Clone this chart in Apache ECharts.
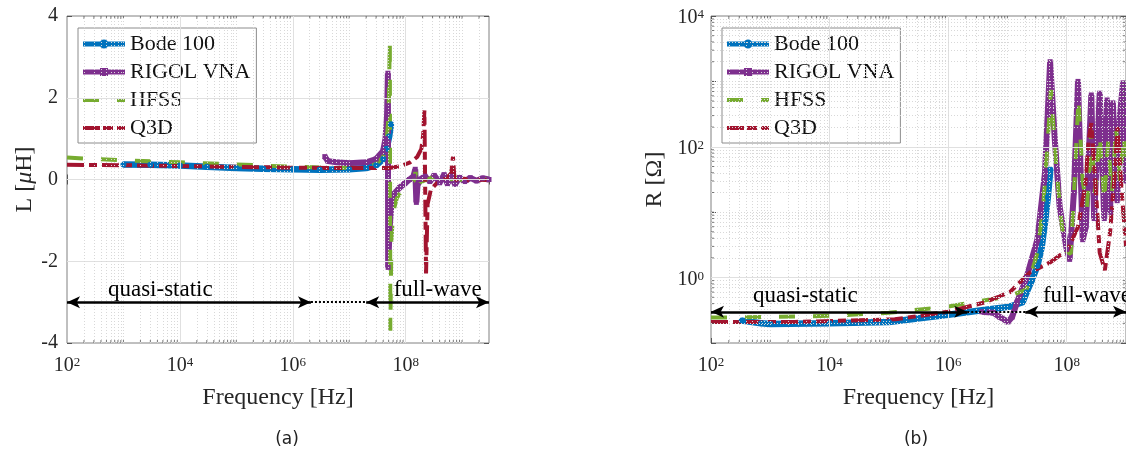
<!DOCTYPE html>
<html>
<head>
<meta charset="utf-8">
<script src="https://cdn.jsdelivr.net/npm/echarts@6/dist/echarts.min.js"></script>
<style>
html, body { margin: 0; padding: 0; background: #fff; }
#main { width: 1126px; height: 456px; }
</style>
</head>
<body>
<div id="main"></div>
<script>
// ---- (a) inductance L [uH] ----
var bodeFreqL = [1e3, 3e3, 1e4, 3e4, 1e5, 3e5, 1e6, 3e6, 1e7, 2e7, 3e7, 4e7, 4.6e7, 5.1e7, 5.5e7];
var bodeL = [0.37, 0.36, 0.34, 0.31, 0.28, 0.26, 0.25, 0.24, 0.25, 0.28, 0.35, 0.5, 0.75, 1.05, 1.35];

var rigolFreqL = [3.7e6, 4.2e6, 6e6, 1e7, 2e7, 3e7, 4e7, 4.4e7, 4.7e7, 4.85e7, 4.9e7, 5.2e7, 5.6e7, 6.3e7, 7.8e7, 9.6e7, 1.17e8, 1.38e8, 1.48e8, 1.55e8, 1.62e8, 1.8e8, 2.2e8, 2.7e8, 3.2e8, 4e8, 4.8e8, 5.5e8, 6.5e8, 7.5e8, 9e8, 1.1e9, 1.4e9, 1.8e9, 2.3e9, 3e9];
var rigolL = [0.56, 0.45, 0.42, 0.4, 0.42, 0.5, 0.7, 1.0, 1.6, 2.6, -2.15, -1.2, -0.6, -0.35, -0.2, -0.1, 0.0, 0.08, 0.25, -0.56, -0.15, 0.0, 0.08, -0.05, 0.1, -0.08, 0.12, -0.1, 0.08, -0.12, 0.05, -0.05, 0.04, -0.03, 0.03, 0.0];

var hfssFreqL = [1e2, 3e2, 1e3, 1e4, 1e5, 1e6, 1e7, 2e7, 3e7, 4e7, 4.6e7, 5e7, 5.25e7, 5.35e7, 5.6e7, 6e7, 7e7, 8.5e7, 1e8, 1.2e8, 1.4e8, 1.5e8, 1.56e8, 1.8e8, 2.2e8, 3e8, 4e8, 5e8, 6.5e8, 8e8, 1e9, 1.4e9, 2e9, 3e9];
var hfssL = [0.54, 0.5, 0.47, 0.42, 0.37, 0.31, 0.28, 0.3, 0.38, 0.55, 0.9, 1.6, 3.4, -3.7, -1.5, -0.8, -0.45, -0.28, -0.18, -0.1, -0.03, 0.22, -0.2, -0.08, -0.02, 0.05, -0.03, 0.06, 0.0, 0.05, -0.02, 0.03, 0.0, 0.0];

var q3dFreqL = [1e2, 1e3, 1e4, 1e5, 1e6, 1e7, 5e7, 8e7, 1.2e8, 1.6e8, 1.9e8, 2.05e8, 2.15e8, 2.3e8, 2.45e8, 2.8e8, 3.5e8, 4.5e8, 5.5e8, 6.4e8, 6.9e8, 7.3e8, 8.5e8, 1.1e9, 1.5e9, 2e9, 3e9];
var q3dL = [0.36, 0.35, 0.33, 0.31, 0.29, 0.28, 0.28, 0.32, 0.42, 0.55, 0.75, 1.1, 1.69, -2.3, -0.6, -0.25, -0.1, 0.0, 0.05, 0.15, 0.56, 0.05, -0.05, 0.02, -0.05, 0.0, -0.02];

// ---- (b) resistance R [Ohm] ----
var bodeFreqR = [3.3e2, 7e2, 1e3, 1e4, 1e5, 1e6, 4e6, 1.1e7, 1.8e7, 2.1e7, 2.6e7, 3.2e7, 3.8e7, 4.3e7, 4.8e7, 5.3e7];
var bodeR = [0.22, 0.2, 0.195, 0.2, 0.21, 0.27, 0.32, 0.36, 0.42, 0.59, 0.93, 1.5, 3, 7, 17, 45];

var rigolFreqR = [3.7e6, 5.8e6, 7.4e6, 1.02e7, 1.2e7, 1.45e7, 2.1e7, 3.2e7, 4.3e7, 5.25e7, 6.3e7, 7.6e7, 1e8, 1.12e8, 1.32e8, 1.55e8, 1.86e8, 2.1e8, 2.6e8, 2.9e8, 3.6e8, 4.3e8, 4.8e8, 5.4e8, 6e8, 7.1e8, 7.9e8, 8.9e8, 1e9];
var rigolR = [0.30, 0.29, 0.25, 0.21, 0.25, 0.42, 1.0, 3.8, 40, 2000, 128, 12, 2.7, 1.9, 20, 1000, 3.8, 6, 620, 8, 660, 8, 520, 10, 470, 15, 300, 950, 30];

var hfssFreqR = [1e2, 1e3, 1e4, 1e5, 1e6, 4.2e6, 1.1e7, 2.1e7, 3.2e7, 4e7, 4.8e7, 5.4e7, 6.8e7, 8.3e7, 1e8, 1.17e8, 1.38e8, 1.58e8, 1.86e8, 2.2e8, 2.6e8, 3e8, 3.6e8, 4.3e8, 5e8, 5.8e8, 6.8e8, 7.9e8, 9.1e8, 1e9];
var hfssR = [0.245, 0.25, 0.26, 0.29, 0.36, 0.45, 0.52, 0.66, 2.4, 12, 125, 740, 40, 6, 2.5, 2.3, 40, 550, 30, 12, 180, 20, 150, 15, 120, 20, 200, 30, 150, 60];

var q3dFreqR = [1e2, 2.6e3, 1.26e5, 1e6, 4.2e6, 1.1e7, 2.4e7, 5.2e7, 1.05e8, 1.55e8, 2.05e8, 2.35e8, 2.6e8, 3.1e8, 3.6e8, 4.4e8, 5.4e8, 6.3e8, 7.2e8, 8.5e8, 1e9];
var q3dR = [0.21, 0.21, 0.23, 0.3, 0.42, 0.6, 1.2, 1.7, 2.7, 6, 25, 128, 230, 22, 2.4, 1.3, 5, 30, 200, 20, 3];

var SERIF = "'Liberation Serif', 'Times New Roman', serif";
var C_BLUE = '#0072BD', C_PURPLE = '#7E2F8E', C_GREEN = '#77AC30', C_RED = '#A2142F';

// legend samples drawn as filled paths (line + marker, dashes)
var ICON_BODE = 'path://M0,2.5 H42 V7.5 H0 Z M25.5,5 A4.5,4.5 0 1,1 16.5,5 A4.5,4.5 0 1,1 25.5,5 Z';
var ICON_RIGOL = 'path://M0,2.5 H42 V7.5 H0 Z M17,1 H25 V9 H17 Z';
var ICON_HFSS = 'path://M0,0 H16 V4 H0 Z M34,0 H42 V4 H34 Z';
var ICON_Q3D = 'path://M0,0 H17 V4 H0 Z M20,0 H30 V4 H20 Z M34,0 H42 V4 H34 Z';

function pairs(f, v) {
	return f.map(function(x, i) { return [x, v[i]]; });
}

function isEvenDecade(v) {
	var e = Math.round(Math.log10(v));
	return Math.abs(Math.log10(v) - e) < 1e-6 && e % 2 === 0;
}

function supFmt(v) {
	if (!isEvenDecade(v)) return '';
	return '{b|10}{s|' + Math.round(Math.log10(v)) + '}';
}

var supRich = {
	b: { fontFamily: SERIF, fontSize: 20, color: '#262626', lineHeight: 20, padding: [4, 0, 0, 0], verticalAlign: 'bottom' },
	s: { fontFamily: SERIF, fontSize: 13, color: '#262626', lineHeight: 13, verticalAlign: 'top' }
};

// grid line / tick positions on a log axis
function logLines(lo, hi, major) {
	var out = [];
	for (var e = Math.floor(Math.log10(lo)); e <= Math.ceil(Math.log10(hi)); e++) {
		for (var m = 1; m <= 9; m++) {
			var v = m * Math.pow(10, e);
			if (v <= lo * 1.0001 || v >= hi * 0.9999) continue;
			var isMajor = (m === 1 && e % 2 === 0);
			if (isMajor === major) out.push(v);
		}
	}
	return out;
}

function lineSeries(name, idx, data, opt) {
	return Object.assign({
		name: name,
		type: 'line',
		xAxisIndex: idx,
		yAxisIndex: idx,
		data: data,
		z: 3,
		animation: false
	}, opt);
}

function styleBode(data, idx) {
	return lineSeries('Bode 100', idx, data, {
		symbol: 'circle', symbolSize: 6, showSymbol: true,
		itemStyle: { color: C_BLUE },
		lineStyle: { color: C_BLUE, width: 6.5 }
	});
}
function styleRigol(data, idx) {
	return lineSeries('RIGOL VNA', idx, data, {
		symbol: 'rect', symbolSize: 5, showSymbol: true,
		itemStyle: { color: C_PURPLE },
		lineStyle: { color: C_PURPLE, width: 6 }
	});
}
function styleHfss(data, idx) {
	return lineSeries('HFSS', idx, data, {
		symbol: 'none',
		itemStyle: { color: C_GREEN },
		lineStyle: { color: C_GREEN, width: 4, type: [16, 18] }
	});
}
function styleQ3d(data, idx) {
	return lineSeries('Q3D', idx, data, {
		symbol: 'none',
		itemStyle: { color: C_RED },
		lineStyle: { color: C_RED, width: 4, type: [17, 5, 8, 5] }
	});
}

function gridSeries(idx, xMin, xMax, yLines, yMinor) {
	var major = logLines(xMin, xMax, true).map(function(v) { return { xAxis: v }; })
		.concat(yLines.map(function(v) { return { yAxis: v }; }));
	var minor = logLines(xMin, xMax, false).map(function(v) { return { xAxis: v }; })
		.concat(yMinor.map(function(v) { return { yAxis: v }; }));
	return [{
		type: 'line', xAxisIndex: idx, yAxisIndex: idx, data: [], z: 1, silent: true,
		markLine: {
			silent: true, symbol: 'none', label: { show: false }, animation: false,
			lineStyle: { color: '#e0e0e0', width: 1, type: 'solid' },
			data: major
		}
	}, {
		type: 'line', xAxisIndex: idx, yAxisIndex: idx, data: [], z: 1, silent: true,
		markLine: {
			silent: true, symbol: 'none', label: { show: false }, animation: false,
			lineStyle: { color: '#d8d8d8', width: 1, type: [1, 2] },
			data: minor
		}
	}];
}

// small inward minor ticks on a box edge
function minorTicks(idx, pts, size, offset) {
	return {
		type: 'scatter', xAxisIndex: idx, yAxisIndex: idx, data: pts, z: 4, silent: true,
		clip: false, animation: false,
		symbol: 'rect', symbolSize: size, symbolOffset: offset,
		itemStyle: { color: '#555' }
	};
}

function regionSeries(idx, yArrow, xQs, xFw, yText, xEnd) {
	return {
		type: 'line', xAxisIndex: idx, yAxisIndex: idx, data: [], z: 6, silent: true,
		markLine: {
			silent: true, animation: false, label: { show: false },
			symbol: ['arrow', 'arrow'], symbolSize: [9, 13],
			lineStyle: { color: '#000', width: 2.5, type: 'solid' },
			data: [
				[{ coord: [100, yArrow] }, { coord: [2.1e6, yArrow] }],
				[{ coord: [2.1e6, yArrow], symbol: 'none', lineStyle: { type: [2, 2], width: 2 } }, { coord: [2e7, yArrow], symbol: 'none' }],
				[{ coord: [2e7, yArrow] }, { coord: [xEnd, yArrow] }]
			]
		},
		markPoint: {
			silent: true, animation: false, symbol: 'circle', symbolSize: 1,
			itemStyle: { color: 'rgba(0,0,0,0)' },
			label: { show: true, position: 'inside', formatter: '{b}', color: '#000', fontFamily: SERIF, fontSize: 23 },
			data: [
				{ name: 'quasi-static', coord: [xQs, yText] },
				{ name: 'full-wave', coord: [xFw, yText] }
			]
		}
	};
}

function legendAt(left) {
	return {
		left: left, top: 28, orient: 'vertical',
		padding: [5, 6, 4, 5], itemGap: 6, itemWidth: 42, itemHeight: 10,
		symbolKeepAspect: true,
		backgroundColor: '#fff', borderColor: '#8c8c8c', borderWidth: 1,
		selectedMode: false,
		textStyle: { fontFamily: SERIF, fontSize: 22, color: '#111', lineHeight: 22 },
		data: [
			{ name: 'Bode 100', icon: ICON_BODE, itemStyle: { color: C_BLUE, borderWidth: 0 } },
			{ name: 'RIGOL VNA', icon: ICON_RIGOL, itemStyle: { color: C_PURPLE, borderWidth: 0 } },
			{ name: 'HFSS', icon: ICON_HFSS, itemStyle: { color: C_GREEN, borderWidth: 0 } },
			{ name: 'Q3D', icon: ICON_Q3D, itemStyle: { color: C_RED, borderWidth: 0 } }
		]
	};
}

var tick = { show: true, inside: true, length: 5, lineStyle: { color: '#555', width: 1 } };
var nameStyle = { fontFamily: SERIF, fontSize: 24, color: '#262626' };

var xMinorA = logLines(100, 3e9, false);
var xMinorB = logLines(100, 1e9, false);
var yMinorB = logLines(0.1, 1e4, false);

function axisCopy(base, extra) {
	return Object.assign({}, base, {
		axisLabel: { show: false }, name: '', splitLine: { show: false }, axisLine: { show: false }
	}, extra);
}

var xA = {
	type: 'log', gridIndex: 0, logBase: 10, min: 100, max: 3e9, interval: 2,
	axisLine: { show: false }, axisTick: tick, splitLine: { show: false },
	axisLabel: { margin: 13, formatter: supFmt, rich: supRich, showMaxLabel: false },
	name: 'Frequency [Hz]', nameLocation: 'middle', nameGap: 43, nameTextStyle: nameStyle
};
var xB = {
	type: 'log', gridIndex: 1, logBase: 10, min: 100, max: 1e9, interval: 2,
	axisLine: { show: false }, axisTick: tick, splitLine: { show: false },
	axisLabel: { margin: 13, formatter: supFmt, rich: supRich, showMaxLabel: false },
	name: 'Frequency [Hz]', nameLocation: 'middle', nameGap: 43, nameTextStyle: nameStyle
};
var yA = {
	type: 'value', gridIndex: 0, min: -4, max: 4, interval: 2,
	axisLine: { show: false }, axisTick: tick, splitLine: { show: false },
	axisLabel: { margin: 9, fontFamily: SERIF, fontSize: 20, color: '#262626' },
	name: 'L [{i|μ}H]', nameLocation: 'middle', nameGap: 30,
	nameTextStyle: Object.assign({ rich: { i: { fontFamily: SERIF, fontSize: 24, fontStyle: 'italic', color: '#262626' } } }, nameStyle)
};
var yB = {
	type: 'log', gridIndex: 1, logBase: 10, min: 0.1, max: 1e4, interval: 1,
	axisLine: { show: false }, axisTick: tick, splitLine: { show: false },
	axisLabel: { margin: 7, formatter: supFmt, rich: supRich, padding: [4, 0, 0, 0] },
	name: 'R [Ω]', nameLocation: 'middle', nameGap: 44, nameTextStyle: nameStyle
};

var chart = echarts.init(document.getElementById('main'));
var option = {
	animation: false,
	backgroundColor: '#fff',
	grid: [
		{ left: 67, top: 16, width: 422, height: 327, show: true, borderColor: '#808080', borderWidth: 1, backgroundColor: 'transparent' },
		{ left: 711, top: 16, width: 415, height: 327, show: true, borderColor: '#808080', borderWidth: 1, backgroundColor: 'transparent' }
	],
	legend: [legendAt(78), legendAt(722)],
	xAxis: [xA, xB, axisCopy(xA, { position: 'top' }), axisCopy(xB, { position: 'top' })],
	yAxis: [yA, yB, axisCopy(yA, { position: 'right' }), axisCopy(yB, { position: 'right' })],
	graphic: [
		{ type: 'text', x: 287, y: 440, style: { text: '(a)', textAlign: 'center', textVerticalAlign: 'middle', fontFamily: 'DejaVu Sans', fontSize: 17, fill: '#222' } },
		{ type: 'text', x: 916, y: 440, style: { text: '(b)', textAlign: 'center', textVerticalAlign: 'middle', fontFamily: 'DejaVu Sans', fontSize: 17, fill: '#222' } }
	],
	series: [].concat(
		gridSeries(0, 100, 3e9, [-2, 0, 2], []),
		gridSeries(1, 100, 1e9, [1, 100], yMinorB),
		[
			minorTicks(0, xMinorA.map(function(v) { return [v, -4]; }), [1, 3], [0, -1.5]),
			minorTicks(0, xMinorA.map(function(v) { return [v, 4]; }), [1, 3], [0, 1.5]),
			minorTicks(1, xMinorB.map(function(v) { return [v, 0.1]; }), [1, 3], [0, -1.5]),
			minorTicks(1, xMinorB.map(function(v) { return [v, 1e4]; }), [1, 3], [0, 1.5]),
			minorTicks(1, yMinorB.map(function(v) { return [100, v]; }), [3, 1], [1.5, 0]),
			minorTicks(1, yMinorB.map(function(v) { return [1e9, v]; }), [3, 1], [-1.5, 0]),
			styleBode(pairs(bodeFreqL, bodeL), 0),
			styleRigol(pairs(rigolFreqL, rigolL), 0),
			styleHfss(pairs(hfssFreqL, hfssL), 0),
			styleQ3d(pairs(q3dFreqL, q3dL), 0),
			styleBode(pairs(bodeFreqR, bodeR), 1),
			styleRigol(pairs(rigolFreqR, rigolR), 1),
			styleHfss(pairs(hfssFreqR, hfssR), 1),
			styleQ3d(pairs(q3dFreqR, q3dR), 1),
			regionSeries(0, -3, 4.5e3, 3.7e8, -2.7, 3e9),
			regionSeries(1, 0.3, 3.9e3, 2.2e8, 0.52, 1e9)
		]
	)
};
chart.setOption(option);
window.addEventListener('resize', function() { chart.resize(); });
</script>
</body>
</html>
